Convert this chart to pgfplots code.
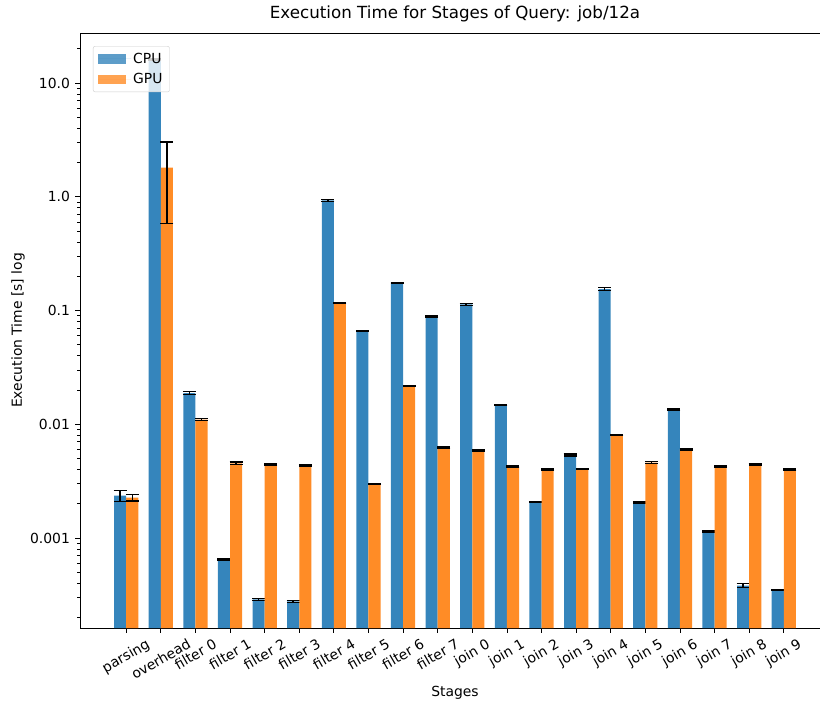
\documentclass[border=0pt]{standalone}
\usepackage{graphicx}
\usepackage{pgfplots}
\pgfplotsset{compat=1.18}
\usepackage{fontspec}
\setmainfont{DejaVu Sans}
\usetikzlibrary{calc}
\definecolor{cpu}{RGB}{53,133,188}
\definecolor{gpu}{RGB}{255,140,38}
\newcommand\tfont{\fontsize{13.9}{16.7}\selectfont}
\newcommand\rl[1]{\rotatebox{30}{#1}}
\begin{document}
\begin{tikzpicture}
\begin{axis}[
  width=750pt, height=595pt, scale only axis,
  xmin=-1.335, xmax=20.335,
  ymode=log, ymin=1.618e-4, ymax=27.5, log origin=infty,
  axis line style={line width=0.8pt},
  tick style={black, line width=0.8pt},
  tick align=outside,
  major tick length=4.9pt, minor tick length=2.8pt,
  xtick={0,...,19},
  xticklabels={{\rl{parsing}},{\rl{overhead}},{\rl{filter 0}},{\rl{filter 1}},{\rl{filter 2}},{\rl{filter 3}},{\rl{filter 4}},{\rl{filter 5}},{\rl{filter 6}},{\rl{filter 7}},{\rl{join 0}},{\rl{join 1}},{\rl{join 2}},{\rl{join 3}},{\rl{join 4}},{\rl{join 5}},{\rl{join 6}},{\rl{join 7}},{\rl{join 8}},{\rl{join 9}}},
  xtick pos=bottom, ytick pos=left,
  ytick={0.001,0.01,0.1,1,10},
  yticklabels={0.001,0.01,0.1,1.0,10.0},
  minor ytick={2e-4,3e-4,4e-4,5e-4,6e-4,7e-4,8e-4,9e-4,2e-3,3e-3,4e-3,5e-3,6e-3,7e-3,8e-3,9e-3,2e-2,3e-2,4e-2,5e-2,6e-2,7e-2,8e-2,9e-2,0.2,0.3,0.4,0.5,0.6,0.7,0.8,0.9,2,3,4,5,6,7,8,9,20},
  /pgf/number format/assume math mode=true,
  xticklabel style={font=\tfont, anchor=north, inner sep=0pt, yshift=-5pt},
  yticklabel style={font=\tfont, anchor=east, inner sep=0pt, xshift=-5pt},
  xlabel={Stages},
  ylabel={Execution Time [s] log},
  xlabel style={font=\tfont, at={(rel axis cs:0.5,0)}, anchor=center, yshift=-65pt},
  ylabel style={font=\tfont, at={(rel axis cs:0,0.5)}, anchor=center, xshift=0pt, yshift=62pt},
  title={Execution Time for Stages of Query: job/12a},
  title style={font=\fontsize{16.7}{20}\selectfont, at={(rel axis cs:0.5,1)}, anchor=base, yshift=8.3pt},
  legend style={at={(rel axis cs:0.0173,0.978)}, anchor=north west, font=\tfont,
    draw=black!20, rounded corners=2pt, fill=white, fill opacity=0.8, text opacity=1,
    inner xsep=5pt, inner ysep=4.5pt, row sep=5pt, legend cell align=left},
  legend image code/.code={\fill[#1, draw=none, sharp corners] (0pt,-4.9pt) rectangle (27.8pt,4.9pt);\path (0pt,0pt) -- (33pt,0pt);},
  error bars/error bar style={black, line width=1.5pt},
  error bars/error mark options={rotate=90, black, mark size=6.5pt, line width=1.4pt},
]
\addplot[ybar, bar width=0.35, bar shift=0, fill=cpu, draw=none,
  error bars/.cd, y dir=both, y explicit] coordinates {
  (-0.175,0.00236) +- (0,0.00027)
  (0.825,16.0) +- (0,0.3)
  (1.825,0.0188) +- (0,0.0005)
  (2.825,0.00065) +- (0,0.00001)
  (3.825,0.000289) +- (0,0.000005)
  (4.825,0.000277) +- (0,0.000005)
  (5.825,0.93) +- (0,0.02)
  (6.825,0.066) +- (0,0.001)
  (7.825,0.1746) +- (0,0.002)
  (8.825,0.0883) +- (0,0.0015)
  (9.825,0.113) +- (0,0.002)
  (10.825,0.01476) +- (0,0.0002)
  (11.825,0.00207) +- (0,0.00002)
  (12.825,0.00537) +- (0,0.0001)
  (13.825,0.1545) +- (0,0.004)
  (14.825,0.00206) +- (0,0.00003)
  (15.825,0.01343) +- (0,0.0002)
  (16.825,0.001135) +- (0,0.00002)
  (17.825,0.000381) +- (0,0.000015)
  (18.825,0.000349) +- (0,0.000003)
};
\addlegendentry{CPU}
\addplot[ybar, bar width=0.35, bar shift=0, fill=gpu, draw=none,
  error bars/.cd, y dir=both, y explicit] coordinates {
  (0.175,0.00226) +- (0,0.00015)
  (1.175,1.8) +- (0,1.22)
  (2.175,0.0110) +- (0,0.0002)
  (3.175,0.00454) +- (0,0.00012)
  (4.175,0.00441) +- (0,0.00006)
  (5.175,0.00432) +- (0,0.00006)
  (6.175,0.117) +- (0,0.001)
  (7.175,0.0030) +- (0,0.00003)
  (8.175,0.0217) +- (0,0.0002)
  (9.175,0.00627) +- (0,0.0001)
  (10.175,0.00586) +- (0,0.00006)
  (11.175,0.00424) +- (0,0.00005)
  (12.175,0.00402) +- (0,0.00006)
  (13.175,0.00404) +- (0,0.00003)
  (14.175,0.00805) +- (0,0.00008)
  (15.175,0.00461) +- (0,0.0001)
  (16.175,0.00605) +- (0,0.0001)
  (17.175,0.00424) +- (0,0.00006)
  (18.175,0.00441) +- (0,0.00006)
  (19.175,0.00399) +- (0,0.00006)
};
\addlegendentry{GPU}
\coordinate (SW) at (rel axis cs:0,0);
\end{axis}
\pgfresetboundingbox
\path[use as bounding box] ($(SW)+(-80pt,-76pt)$) rectangle ($(SW)+(740pt,628pt)$);
\end{tikzpicture}
\end{document}
